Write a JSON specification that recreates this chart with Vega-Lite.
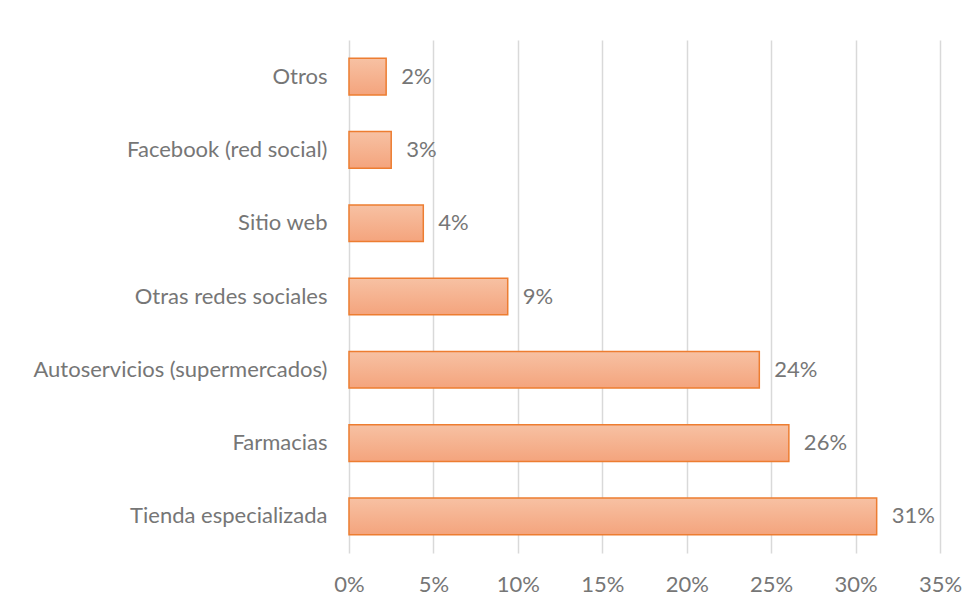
{
  "$schema": "https://vega.github.io/schema/vega-lite/v6.json",
  "width": 591,
  "height": 513,
  "autosize": "none",
  "padding": {"left": 349, "top": 40, "right": 37, "bottom": 57},
  "background": "white",
  "config": {"view": {"stroke": null}, "font": "Lato"},
  "data": {"values": [
    {"cat": "Otros", "v": 0.022, "lbl": "2%"},
    {"cat": "Facebook (red social)", "v": 0.025, "lbl": "3%"},
    {"cat": "Sitio web", "v": 0.044, "lbl": "4%"},
    {"cat": "Otras redes sociales", "v": 0.094, "lbl": "9%"},
    {"cat": "Autoservicios (supermercados)", "v": 0.243, "lbl": "24%"},
    {"cat": "Farmacias", "v": 0.2605, "lbl": "26%"},
    {"cat": "Tienda especializada", "v": 0.3125, "lbl": "31%"}
  ]},
  "encoding": {
    "y": {"field": "cat", "type": "nominal", "sort": null,
      "scale": {"paddingInner": 0.5, "paddingOuter": 0.25},
      "axis": {"title": null, "domain": false, "ticks": false, "labelPadding": 22, "labelLimit": 400,
        "labelFontSize": 22, "labelColor": "#767676", "labelFont": "Lato"}},
    "x": {"field": "v", "type": "quantitative",
      "scale": {"domain": [0, 0.35], "nice": false},
      "axis": {"title": null, "format": ".0%", "values": [0,0.05,0.1,0.15,0.2,0.25,0.3,0.35],
        "domain": false, "ticks": false, "grid": true, "gridColor": "#d9d9d9", "gridWidth": 1.5,
        "labelPadding": 21, "labelFontSize": 22, "labelColor": "#767676", "labelFont": "Lato", "labelFlush": false}}
  },
  "layer": [
    {"mark": {"type": "bar", "stroke": "#ED7D31", "strokeWidth": 1.5,
      "fill": {"gradient": "linear", "x1": 0, "y1": 0, "x2": 0, "y2": 1,
        "stops": [{"offset": 0, "color": "#F7C1A3"}, {"offset": 1, "color": "#F4A47D"}]}}},
    {"mark": {"type": "text", "align": "left", "dx": 15, "fontSize": 22, "color": "#767676", "font": "Lato"},
      "encoding": {"text": {"field": "lbl"}}}
  ]
}
